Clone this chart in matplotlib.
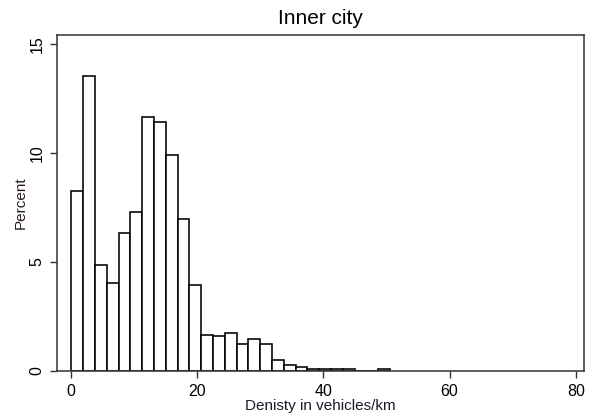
import numpy as np
import matplotlib.pyplot as plt

plt.rcParams['font.family'] = ['Liberation Sans', 'DejaVu Sans']

# histogram of vehicle density, inner city
bin_start = 0.1
bin_width = 1.87
percent = [8.26, 13.52, 4.84, 4.02, 6.33, 7.27, 11.63, 11.40, 9.91, 6.96,
           3.95, 1.66, 1.60, 1.74, 1.24, 1.47, 1.24, 0.49, 0.25, 0.18,
           0.08, 0.07, 0.06, 0.06, 0.0, 0.0, 0.06]
xticks = [0, 20, 40, 60, 80]
yticks = [0, 5, 10, 15]

left_edges = bin_start + bin_width * np.arange(len(percent))

fig = plt.figure(figsize=(5.92, 4.17), dpi=100)
ax = fig.add_axes([57 / 592, 1 - 371 / 417, 527 / 592, 336 / 417])

ax.bar(left_edges, percent, width=bin_width, align='edge',
       facecolor='white', edgecolor='black', linewidth=1.15)

ax.set_xlim(-2.17, 81.3)
ax.set_ylim(-0.01, 15.41)
ax.set_xticks(xticks)
ax.set_yticks(yticks)
ax.set_yticklabels([str(t) for t in yticks], rotation=90, va='center')
ax.tick_params(axis='both', length=5, width=1.0, color='#333333',
               labelsize=11.5, pad=4)

for s in ax.spines.values():
    s.set_linewidth(1.1)
    s.set_color('#333333')

ax.set_title('Inner city', fontsize=15, pad=8)
ax.set_xlabel('Denisty in vehicles/km', fontsize=11, labelpad=0.5, color='#1a1a2a')
ax.set_ylabel('Percent', fontsize=11, labelpad=1.5, color='#2a1a1a')

fig.savefig('out.png', dpi=100)
